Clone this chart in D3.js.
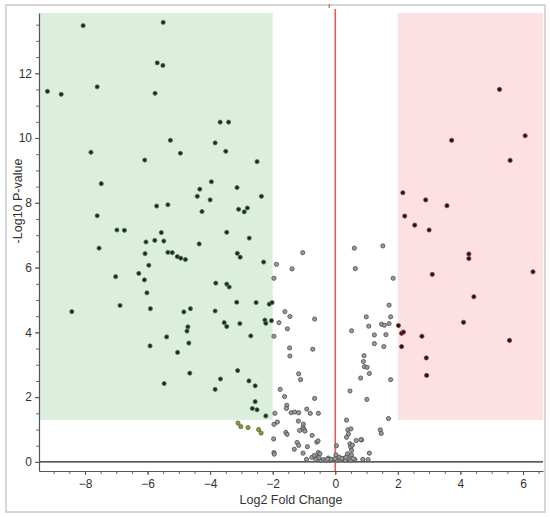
<!DOCTYPE html>
<html lang="en">
<head>
<meta charset="UTF-8">
<title>volcano</title>
<style>
  body { margin: 0; background: #fff; }
  text { font-family: "Liberation Sans", Arial, sans-serif; }
</style>
</head>
<body>
<div id="container"></div>
<script src="https://cdnjs.cloudflare.com/ajax/libs/d3/7.8.5/d3.min.js"></script>
<script>
// [log2 fold change, -log10 p]
var leftPoints = [
  [-8.06,13.47],[-5.50,13.57],[-5.69,12.32],[-5.51,12.24],[-9.20,11.44],[-8.76,11.35],[-7.61,11.58],[-5.76,11.38],
  [-3.68,10.49],[-3.41,10.49],[-5.27,9.93],[-3.84,9.85],[-7.81,9.56],[-4.95,9.53],[-3.50,9.59],[-6.09,9.32],
  [-2.50,9.27],[-7.48,8.59],[-3.96,8.65],[-4.33,8.42],[-3.14,8.47],[-4.41,8.20],[-2.36,8.20],[-4.00,8.09],
  [-5.71,7.90],[-5.35,7.94],[-4.26,7.73],[-3.09,7.80],[-2.81,7.84],[-2.91,7.72],[-7.61,7.60],[-6.98,7.16],
  [-6.74,7.15],[-5.56,7.08],[-3.47,7.09],[-2.75,6.91],[-6.05,6.79],[-5.77,6.84],[-5.48,6.82],[-4.35,6.73],
  [-7.55,6.60],[-6.08,6.43],[-5.35,6.47],[-5.21,6.46],[-5.05,6.34],[-4.94,6.29],[-4.79,6.25],[-3.13,6.44],
  [-3.04,6.32],[-2.29,6.17],[-8.42,4.64],[-7.02,5.72],[-6.88,4.83],[-6.28,5.82],[-6.10,5.62],[-6.02,5.22],
  [-5.96,6.07],[-5.91,4.73],[-5.92,3.58],[-5.39,3.86],[-5.47,2.42],[-5.04,3.38],[-4.84,4.63],[-4.63,4.73],
  [-4.71,4.17],[-4.74,4.04],[-4.68,3.67],[-4.65,2.74],[-3.82,5.52],[-3.84,4.66],[-3.84,2.24],[-3.67,2.56],
  [-3.55,4.30],[-3.47,4.18],[-3.47,5.49],[-3.39,5.40],[-3.15,4.93],[-3.12,2.82],[-3.05,4.27],[-2.76,2.50],
  [-2.70,3.89],[-2.56,2.35],[-2.56,1.86],[-2.53,4.92],[-2.65,1.65],[-2.50,1.61],[-2.22,1.42],[-2.11,4.87],
  [-2.02,4.92],[-2.25,4.38],[-2.22,4.28],[-2.04,4.36],
  [-3.11,1.20],[-3.02,1.09],[-2.79,1.06],[-2.45,1.00],[-2.37,0.89]
];

var rightPoints = [
  [5.25,11.50],[6.07,10.07],[3.72,9.93],[5.59,9.31],[2.16,8.31],[2.89,8.09],[3.57,7.91],[2.22,7.59],
  [2.54,7.31],[3.00,7.16],[4.27,6.42],[4.27,6.28],[3.10,5.79],[6.32,5.87],[4.43,5.10],[2.02,4.21],
  [2.12,3.97],[2.18,4.01],[2.12,3.56],[2.77,3.88],[2.91,3.21],[2.92,2.67],[4.10,4.31],[5.57,3.75]
];

var middlePoints = [
  [-1.04,6.46],[0.61,6.60],[1.52,6.67],[-1.88,6.10],[-1.96,5.67],[-1.38,5.96],[0.64,5.97],[1.85,5.67],
  [-1.61,4.64],[-1.45,4.49],[-0.66,4.41],[-1.80,4.30],[-1.53,4.11],[-1.96,3.88],[-1.46,3.52],[-1.45,3.27],
  [-0.72,3.48],[-1.17,2.72],[-1.11,2.54],[0.99,4.48],[1.77,4.48],[1.72,4.84],[1.07,4.19],[1.48,4.25],
  [1.57,4.22],[1.72,4.27],[0.52,4.05],[1.25,3.92],[1.62,3.93],[1.25,3.65],[1.55,3.56],[0.92,3.28],
  [0.90,3.10],[0.93,2.94],[1.02,2.92],[1.09,2.73],[0.81,2.59],[1.77,2.54],[0.47,2.19],[1.01,1.93],
  [1.70,1.34],[-1.76,2.24],[-1.62,2.02],[-0.66,1.96],[-1.55,1.75],[-1.56,1.65],[-1.41,1.52],[-1.30,1.54],
  [-1.17,1.52],[-0.91,1.63],[-0.80,1.50],[-0.54,1.50],[-1.93,1.50],[-1.96,1.16],[-1.85,1.23],[-1.18,1.26],
  [-1.02,1.17],[-1.03,1.06],[-1.00,1.01],[-0.97,0.95],[-1.14,0.97],[-1.58,0.91],[-1.54,0.85],[-0.74,0.82],
  [-1.97,0.71],[-0.59,0.61],[-0.55,0.65],[-1.22,0.60],[-1.17,0.51],[-1.31,0.39],[-0.89,0.47],[-1.96,0.29],
  [-1.95,0.24],[-1.03,0.27],[-0.54,0.29],[-0.49,0.25],[-0.58,0.14],[-0.75,0.14],[-0.67,0.20],[-0.92,0.08],
  [-0.46,0.05],[-0.38,0.07],[-0.30,0.05],[-0.22,0.12],[-0.17,0.05],[-0.06,0.07],[0.05,0.05],[0.15,0.07],
  [0.26,0.10],[0.32,0.05],[0.42,0.10],[0.50,0.05],[0.63,0.07],[0.12,0.15],[-0.14,0.08],[0.04,0.50],
  [0.36,1.29],[0.40,0.99],[0.50,1.02],[0.42,0.86],[0.67,0.66],[0.84,0.68],[0.47,0.56],[0.49,0.47],
  [0.52,0.36],[0.39,0.25],[0.52,0.22],[1.09,0.27],[0.88,0.08],[1.05,0.07],[1.44,0.99],[1.47,0.88],
  [-0.62,0.08],[-0.52,0.13],[-0.25,0.08],[-0.01,0.10],[0.21,0.11],[0.34,0.14],[0.57,0.10],[0.02,0.22],
  [0.55,0.52],[0.82,0.69],[0.36,0.76]
];

var xTicks = [-8, -6, -4, -2, 0, 2, 4, 6];
var yTicks = [0, 2, 4, 6, 8, 10, 12];
var fcCut = 2, pCut = 1.3;

var width = 550, height = 517;
var margin = {top: 13, right: 7, bottom: 46, left: 39};

var svg = d3.select("#container").append("svg")
    .attr("width", width)
    .attr("height", height);

svg.append("rect")
    .attr("x", 6).attr("y", 5)
    .attr("width", 539).attr("height", 507)
    .attr("fill", "#fff")
    .attr("stroke", "#d6d6d6")
    .attr("stroke-width", 2);

var x = d3.scaleLinear().domain([-9.47, 6.64]).range([margin.left, width - margin.right]);
var y = d3.scaleLinear().domain([-0.28, 13.86]).range([height - margin.bottom, margin.top]);

var xd = x.domain(), yd = y.domain();

// significance regions
svg.append("rect")
    .attr("x", x(xd[0])).attr("y", y(yd[1]))
    .attr("width", x(-fcCut) - x(xd[0]))
    .attr("height", y(pCut) - y(yd[1]))
    .attr("fill", "#dcefdf");

svg.append("rect")
    .attr("x", x(fcCut)).attr("y", y(yd[1]))
    .attr("width", x(xd[1]) - x(fcCut))
    .attr("height", y(pCut) - y(yd[1]))
    .attr("fill", "#fde0e1");

// zero lines
svg.append("line")
    .attr("x1", x(xd[0])).attr("x2", x(xd[1]))
    .attr("y1", y(0)).attr("y2", y(0))
    .attr("stroke", "#222").attr("stroke-width", 1.2);

svg.append("line")
    .attr("x1", x(0)).attr("x2", x(0))
    .attr("y1", margin.top - 4).attr("y2", y(yd[0]))
    .attr("stroke", "#e05a5a").attr("stroke-width", 1.6);

svg.append("line")
    .attr("x1", x(0) - 6).attr("x2", x(0) - 6)
    .attr("y1", 4).attr("y2", 8)
    .attr("stroke", "#e05a5a").attr("stroke-width", 1.2);

// axes
var minorX = d3.range(-9, 6.6, 0.5), minorY = d3.range(0, 13.9, 0.5);

svg.append("g")
    .attr("transform", "translate(0," + y(yd[0]) + ")")
    .call(d3.axisBottom(x).tickValues(minorX).tickSize(3).tickFormat("").tickSizeOuter(0))
    .call(function(g) { g.select(".domain").remove(); })
    .selectAll("line").attr("stroke", "#666");

svg.append("g")
    .attr("transform", "translate(" + x(xd[0]) + ",0)")
    .call(d3.axisLeft(y).tickValues(minorY).tickSize(3).tickFormat("").tickSizeOuter(0))
    .call(function(g) { g.select(".domain").remove(); })
    .selectAll("line").attr("stroke", "#666");

var xAxis = svg.append("g")
    .attr("transform", "translate(0," + y(yd[0]) + ")")
    .call(d3.axisBottom(x).tickValues(xTicks).tickSize(4).tickSizeOuter(0).tickPadding(4));

var yAxis = svg.append("g")
    .attr("transform", "translate(" + x(xd[0]) + ",0)")
    .call(d3.axisLeft(y).tickValues(yTicks).tickSize(4).tickSizeOuter(0).tickPadding(3));

[xAxis, yAxis].forEach(function(g) {
  g.select(".domain").attr("stroke", "#555").attr("stroke-width", 1.2);
  g.selectAll(".tick line").attr("stroke", "#555");
  g.selectAll(".tick text").attr("fill", "#333").attr("font-size", 12)
      .attr("font-family", "'Liberation Sans', Arial, sans-serif");
});

svg.append("text")
    .attr("x", (x(xd[0]) + x(xd[1])) / 2)
    .attr("y", 504)
    .attr("text-anchor", "middle")
    .attr("font-size", 12.5)
    .attr("fill", "#333")
    .text("Log2 Fold Change");

svg.append("text")
    .attr("transform", "translate(22,201) rotate(-90)")
    .attr("text-anchor", "middle")
    .attr("font-size", 12.5)
    .attr("fill", "#333")
    .text("-Log10 P-value");

// points
function group(d) {
  if (d[0] <= -fcCut) return d[1] >= pCut ? "down" : "downLow";
  if (d[0] >= fcCut) return d[1] >= pCut ? "up" : "upLow";
  return "ns";
}
var fills = {down: "#1c2a1e", downLow: "#8a9740", up: "#2a1012", upLow: "#999", ns: "#9a9a9a"};
var strokes = {down: "#4f7a55", downLow: "#5f6b22", up: "#8a3a3e", upLow: "#555", ns: "#4a4a4a"};

var allPoints = middlePoints.concat(leftPoints, rightPoints);

svg.append("g")
  .selectAll("circle")
  .data(allPoints)
  .enter().append("circle")
    .attr("cx", function(d) { return x(d[0]); })
    .attr("cy", function(d) { return y(d[1]); })
    .attr("r", 2.1)
    .attr("fill", function(d) { return fills[group(d)]; })
    .attr("stroke", function(d) { return strokes[group(d)]; })
    .attr("stroke-width", 0.8);
</script>
</body>
</html>
